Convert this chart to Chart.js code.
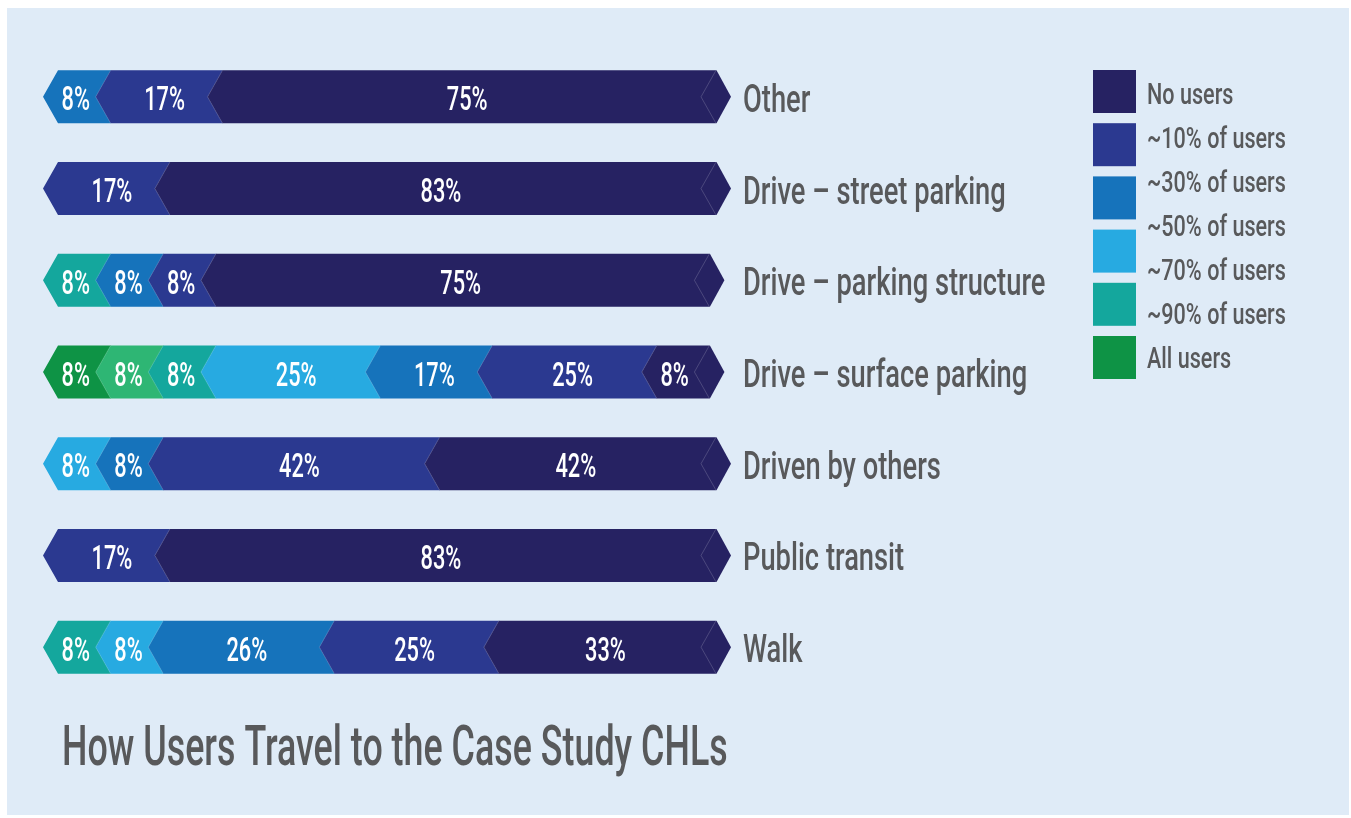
<!DOCTYPE html>
<html>
<head>
<meta charset="utf-8">
<script src="https://cdn.jsdelivr.net/npm/chart.js@4/dist/chart.umd.min.js"></script>
<style>
  html, body { margin: 0; padding: 0; background: #ffffff; }
  #wrap { width: 1351px; height: 818px; }
</style>
</head>
<body>
<div id="wrap"><canvas id="chart" width="1351" height="818"></canvas></div>
<script>
// Travel modes (rows, top to bottom)
const categories = [
  'Other',
  'Drive – street parking',
  'Drive – parking structure',
  'Drive – surface parking',
  'Driven by others',
  'Public transit',
  'Walk'
];

// Share of respondents (%) for each usage level, stacked left to right
const allUsers = [0, 0, 0, 8, 0, 0, 0];
const users90  = [0, 0, 8, 8, 0, 0, 8];
const users70  = [0, 0, 0, 8, 0, 0, 0];
const users50  = [0, 0, 0, 25, 8, 0, 8];
const users30  = [8, 0, 8, 17, 8, 0, 26];
const users10  = [17, 17, 8, 25, 42, 17, 25];
const noUsers  = [75, 83, 75, 8, 42, 83, 33];

// Legend entries (top to bottom)
const legendLabels = ['No users', '~10% of users', '~30% of users', '~50% of users', '~70% of users', '~90% of users', 'All users'];

const title = 'How Users Travel to the Case Study CHLs';

// Palette
const NAVY = '#262262';
const INDIGO = '#2B3990';
const MID_BLUE = '#1673BB';
const LIGHT_BLUE = '#27AAE1';
const TEAL = '#14A79D';
const LIGHT_GREEN = '#2EB674';
const GREEN = '#0E9345';
const TEXT_GREY = '#58595B';
const PANEL = '#DFEBF7';

// Legend swatches (the light blue swatch covers two entries)
const legendSwatches = [NAVY, INDIGO, MID_BLUE, LIGHT_BLUE, TEAL, GREEN];

const perRow = (c, exceptions) => categories.map((_, i) => (exceptions && exceptions[i]) || c);

const datasets = [
  { label: 'All users', data: allUsers, backgroundColor: perRow(GREEN) },
  { label: '~90% of users', data: users90, backgroundColor: perRow(TEAL, { 3: LIGHT_GREEN }) },
  { label: '~70% of users', data: users70, backgroundColor: perRow(TEAL) },
  { label: '~50% of users', data: users50, backgroundColor: perRow(LIGHT_BLUE) },
  { label: '~30% of users', data: users30, backgroundColor: perRow(MID_BLUE) },
  { label: '~10% of users', data: users10, backgroundColor: perRow(INDIGO) },
  { label: 'No users', data: noUsers, backgroundColor: perRow(NAVY) }
];

const FONT = 'Roboto, "Liberation Sans", sans-serif';

// Text in a condensed style: squeeze glyphs horizontally around the anchor
function condensedText(ctx, text, x, y, size, weight, color, align, squeeze) {
  ctx.save();
  ctx.font = weight + ' ' + size + 'px ' + FONT;
  ctx.fillStyle = color;
  ctx.textBaseline = 'alphabetic';
  ctx.textAlign = align;
  ctx.translate(x, y);
  ctx.scale(squeeze, 1);
  ctx.fillText(text, 0, 0);
  ctx.restore();
}

const TIP = 15; // chevron depth in px

const panelPlugin = {
  id: 'panel',
  beforeDraw(chart) {
    const ctx = chart.ctx;
    ctx.save();
    ctx.fillStyle = '#ffffff';
    ctx.fillRect(0, 0, chart.width, chart.height);
    ctx.fillStyle = PANEL;
    ctx.fillRect(7, 8, chart.width - 9, chart.height - 11);
    ctx.restore();
  }
};

// Draws each stacked segment as a left-pointing chevron
const chevronPlugin = {
  id: 'chevrons',
  beforeDatasetsDraw(chart) {
    const ctx = chart.ctx;
    const nSets = chart.data.datasets.length;
    categories.forEach((cat, i) => {
      const segs = [];
      for (let d = 0; d < nSets; d++) {
        const ds = chart.data.datasets[d];
        if (!ds.data[i]) continue;
        const el = chart.getDatasetMeta(d).data[i];
        const p = el.getProps(['x', 'y', 'base', 'height'], true);
        segs.push({
          x0: Math.min(p.base, p.x), x1: Math.max(p.base, p.x),
          y: p.y, h: p.height, color: ds.backgroundColor[i], value: ds.data[i]
        });
      }
      segs.forEach((s, k) => {
        const top = s.y - s.h / 2, bot = s.y + s.h / 2;
        const last = k === segs.length - 1;
        ctx.save();
        ctx.beginPath();
        ctx.moveTo(s.x0 - TIP, s.y);
        ctx.lineTo(s.x0, top);
        ctx.lineTo(s.x1 + 0.5, top);
        ctx.lineTo(last ? s.x1 + TIP : s.x1 - TIP + 0.5, s.y);
        ctx.lineTo(s.x1 + 0.5, bot);
        ctx.lineTo(s.x0, bot);
        ctx.closePath();
        ctx.fillStyle = s.color;
        ctx.fill();
        // faint seam lines between segments and at the end cap
        ctx.strokeStyle = 'rgba(255,255,255,0.22)';
        ctx.lineWidth = 0.8;
        if (k > 0) {
          ctx.beginPath();
          ctx.moveTo(s.x0, top);
          ctx.lineTo(s.x0 - TIP, s.y);
          ctx.lineTo(s.x0, bot);
          ctx.stroke();
        }
        if (last) {
          ctx.beginPath();
          ctx.moveTo(s.x1, top);
          ctx.lineTo(s.x1 - TIP, s.y);
          ctx.lineTo(s.x1, bot);
          ctx.stroke();
        }
        ctx.restore();
      });
      segs.forEach((s) => {
        // narrow chevrons are centred on their visible shape, tip included
        const shift = (s.x1 - s.x0) < 60 ? -TIP / 2 - 1 : -2;
        condensedText(ctx, s.value + '%', (s.x0 + s.x1) / 2 + shift, s.y + 13.5, 33, 500, '#ffffff', 'center', 0.66);
      });
    });
    return false;
  }
};

// Row names, legend and title
const textPlugin = {
  id: 'texts',
  afterDraw(chart) {
    const ctx = chart.ctx;
    const yScale = chart.scales.y;
    const area = chart.chartArea;
    categories.forEach((cat, i) => {
      const y = yScale.getPixelForValue(i);
      condensedText(ctx, cat, area.right + 27, y + 15, 39, 500, TEXT_GREY, 'left', 0.70);
    });

    // legend
    legendSwatches.forEach((c, k) => {
      ctx.fillStyle = c;
      ctx.fillRect(1093, 70 + k * 53.2, 43, 43);
    });
    legendLabels.forEach((t, k) => {
      condensedText(ctx, t, 1147, 104.3 + k * 44, 30, 500, TEXT_GREY, 'left', 0.72);
    });

    condensedText(ctx, title, 62, 765, 56, 500, TEXT_GREY, 'left', 0.64);
  }
};

new Chart(document.getElementById('chart'), {
  type: 'bar',
  data: { labels: categories, datasets },
  options: {
    indexAxis: 'y',
    responsive: false,
    devicePixelRatio: 1,
    animation: false,
    layout: { padding: { left: 58, right: 635, top: 51, bottom: 125 } },
    scales: {
      x: { stacked: true, min: 0, max: 100, display: false },
      y: { stacked: true, display: false }
    },
    datasets: { bar: { categoryPercentage: 1, barPercentage: 0.578 } },
    plugins: { legend: { display: false }, tooltip: { enabled: false } }
  },
  plugins: [panelPlugin, chevronPlugin, textPlugin]
});
</script>
</body>
</html>
